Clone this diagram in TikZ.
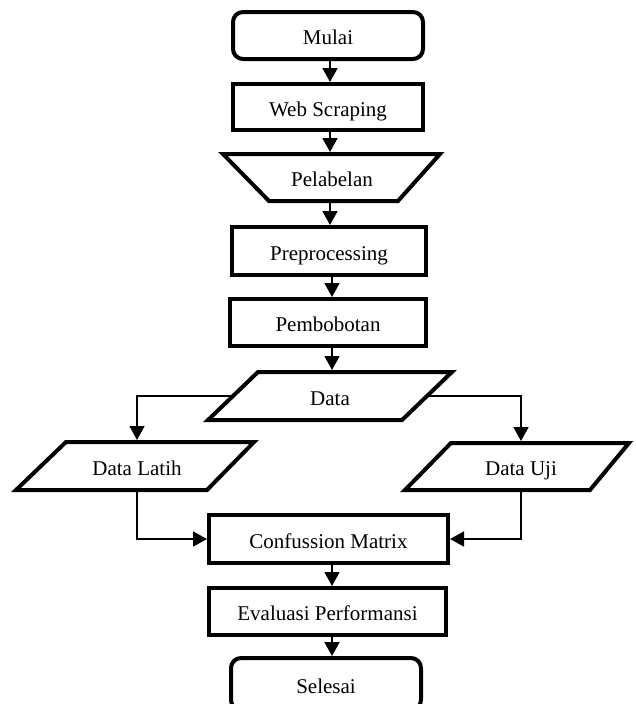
\documentclass[tikz,border=0pt]{standalone}
\usepackage{fontspec}
\setmainfont{Liberation Serif}
\usetikzlibrary{arrows.meta,calc}
\pgfdeclarelayer{bg}
\pgfsetlayers{bg,main}
\begin{document}
\begin{tikzpicture}[x=1pt,y=-1pt,
  lbl/.style={font=\fontsize{21}{24}\selectfont, text=black, inner sep=0pt, text height=18pt, text depth=0pt},
  procbox/.style={lbl, draw=black, line width=4pt, fill=white, outer sep=2pt},
  termbox/.style={procbox, rounded corners=10pt},
  shapeline/.style={draw=black, line width=4pt, fill=white, line join=miter},
  txtnode/.style={lbl, minimum width=100pt, outer sep=2pt},
  conn/.style={draw=black, line width=1.8pt, -{Triangle[width=15pt,length=14pt]}}
]
\useasboundingbox (0,0) rectangle (635,704);
\clip (0,0) rectangle (635,704);

% rectangles
\node[termbox, minimum width=190pt, minimum height=47pt] (mulai) at (328,35.5) {Mulai};
\node[procbox, minimum width=190pt, minimum height=46pt] (ws) at (328,107) {Web Scraping};

% trapezium Pelabelan
\draw[shapeline] (223,154) -- (440,154) -- (398,201) -- (269,201) -- cycle;
\node[txtnode, minimum height=47pt] (pel) at (332,177.5) {Pelabelan};

\node[procbox, minimum width=194pt, minimum height=48pt] (pre) at (329,251) {Preprocessing};
\node[procbox, minimum width=196pt, minimum height=47pt] (pem) at (328,322.5) {Pembobotan};

% parallelogram Data
\draw[shapeline] (258,372) -- (452,372) -- (402,420) -- (208,420) -- cycle;
\node[txtnode, minimum height=48pt] (data) at (330,396) {Data};

% Data Latih
\draw[shapeline] (66,442) -- (254,442) -- (207,490) -- (16,490) -- cycle;
\node[txtnode, minimum height=48pt] (latih) at (137,466) {Data Latih};

% Data Uji
\draw[shapeline] (451,443) -- (629,443) -- (590,490) -- (405,490) -- cycle;
\node[txtnode, minimum height=47pt] (uji) at (521,466.5) {Data Uji};

\node[procbox, minimum width=239pt, minimum height=48pt] (conf) at (328.5,539) {Confussion Matrix};
\node[procbox, minimum width=237pt, minimum height=47pt] (eval) at (327.5,611.5) {Evaluasi Performansi};
\node[termbox, minimum width=190pt, minimum height=52pt] (sel) at (326,684) {Selesai};

% connectors
\begin{pgfonlayer}{bg}
\draw[conn] ([xshift=2pt]mulai.south) -- ([xshift=2pt]mulai.south |- ws.north);
\draw[conn] ([xshift=2pt]ws.south) -- ([xshift=2pt]ws.south |- pel.north);
\draw[conn] ([xshift=-2pt]pel.south) -- ([xshift=-2pt]pel.south |- pre.north);
\draw[conn] ([xshift=3pt]pre.south) -- ([xshift=3pt]pre.south |- pem.north);
\draw[conn] ([xshift=4pt]pem.south) -- ([xshift=4pt]pem.south |- data.north);
\draw[conn] (data.center) -| (latih.north);
\draw[conn] (data.center) -| (uji.north);
\draw[conn] (latih.south) |- (conf.west);
\draw[conn] (uji.south) |- (conf.east);
\draw[conn] ([xshift=3.5pt]conf.south) -- ([xshift=3.5pt]conf.south |- eval.north);
\draw[conn] ([xshift=4.5pt]eval.south) -- ([xshift=4.5pt]eval.south |- sel.north);
\end{pgfonlayer}
\end{tikzpicture}
\end{document}
